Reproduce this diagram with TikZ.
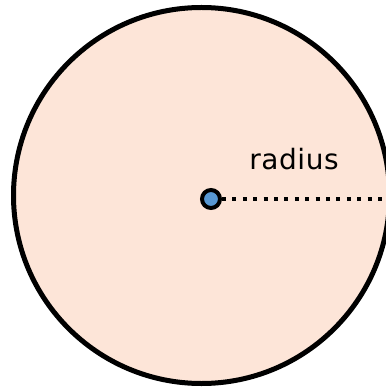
\documentclass[tikz,border=0pt]{standalone}
\usepackage{fontspec}
\setmainfont{Noto Sans}
\newfontfamily\lblfont[LetterSpace=2]{DejaVu Sans}
\definecolor{diskfill}{RGB}{253,229,216}
\definecolor{dotblue}{RGB}{88,152,211}
\begin{document}
\begin{tikzpicture}[
    x=1pt, y=-1pt,
    disk/.style={circle, draw, line width=5pt, fill=diskfill,
                 minimum size=376pt, inner sep=0pt},
    centre/.style={circle, draw, line width=4pt, fill=dotblue,
                   minimum size=18pt, inner sep=0pt},
    radline/.style={line width=4pt, dash pattern=on 4pt off 6.4pt},
    lbl/.style={font=\lblfont\fontsize{28}{32}\selectfont, inner sep=0pt,
                anchor=base}]
  \useasboundingbox (0,0) rectangle (385,387);
  % the disk and its centre
  \node[disk]   (circ) at (201.5,195.5) {};
  \node[centre] (mid)  at (211,199) {};
  \node[lbl]    (rad)  at (294,169) {radius};
  \draw[radline] (mid.east) -- (circ.east |- mid.east);
\end{tikzpicture}
\end{document}
